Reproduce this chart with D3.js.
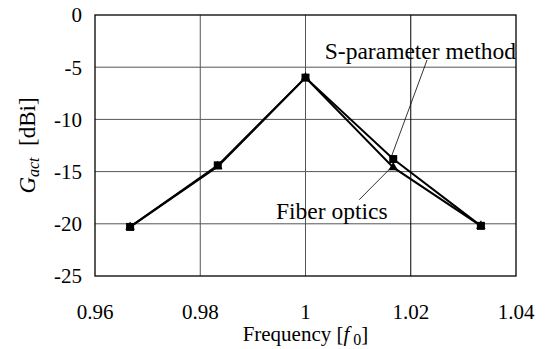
<!DOCTYPE html>
<html>
<head>
<meta charset="utf-8">
<script src="https://cdn.jsdelivr.net/npm/d3@7"></script>
<style>
  body { margin: 0; background: #fff; }
</style>
</head>
<body>
<div id="chart"></div>
<script>
const freqs = [0.96667, 0.98333, 1.0, 1.01667, 1.03333];
const sParam = [-20.3, -14.4, -6.0, -13.8, -20.2];
const fiber = [-20.3, -14.5, -6.0, -14.6, -20.2];
const xTicks = [0.96, 0.98, 1, 1.02, 1.04];
const yTicks = [0, -5, -10, -15, -20, -25];

const margin = { top: 15, right: 29, bottom: 73, left: 95 };
const width = 545 - margin.left - margin.right;
const height = 349 - margin.top - margin.bottom;

const serif = "'Liberation Serif', 'Times New Roman', serif";

const svg = d3.select("#chart").append("svg")
    .attr("width", 545)
    .attr("height", 349)
    .attr("font-family", serif);

const g = svg.append("g")
    .attr("transform", `translate(${margin.left},${margin.top})`);

const x = d3.scaleLinear().domain([0.96, 1.04]).range([0, width]);
const y = d3.scaleLinear().domain([-25, 0]).range([height, 0]);

// grid
g.selectAll(".hgrid")
    .data(yTicks.slice(1, -1))
    .enter().append("line")
    .attr("x1", 0).attr("x2", width)
    .attr("y1", d => y(d)).attr("y2", d => y(d))
    .attr("stroke", "#555").attr("stroke-width", 1);

g.selectAll(".vgrid")
    .data(xTicks.slice(1, -1))
    .enter().append("line")
    .attr("x1", d => x(d)).attr("x2", d => x(d))
    .attr("y1", 0).attr("y2", height)
    .attr("stroke", d => d === 1.02 ? "#000" : "#555")
    .attr("stroke-width", 1);

g.append("rect")
    .attr("width", width).attr("height", height)
    .attr("fill", "none").attr("stroke", "#000").attr("stroke-width", 1.3);

// tick labels
g.selectAll(".ylab")
    .data(yTicks)
    .enter().append("text")
    .attr("x", -13)
    .attr("y", d => y(d))
    .attr("dy", "0.35em")
    .attr("text-anchor", "end")
    .attr("font-size", 21)
    .text(d => d);

g.selectAll(".xlab")
    .data(xTicks)
    .enter().append("text")
    .attr("x", d => x(d))
    .attr("y", height + 43)
    .attr("text-anchor", "middle")
    .attr("font-size", 21)
    .text(d => d);

// axis titles
const xt = svg.append("text")
    .attr("x", margin.left + x(1))
    .attr("y", 341)
    .attr("text-anchor", "middle")
    .attr("font-size", 21);
xt.append("tspan").text("Frequency [");
xt.append("tspan").attr("font-style", "italic").text("f");
xt.append("tspan").attr("font-size", 16).attr("dy", 4).text(" 0");
xt.append("tspan").attr("dy", -4).text("]");

const yt = svg.append("text")
    .attr("transform", `translate(35,${margin.top + y(-12.5)}) rotate(-90)`)
    .attr("text-anchor", "middle")
    .attr("font-size", 23);
yt.append("tspan").attr("font-style", "italic").text("G");
yt.append("tspan").attr("font-style", "italic").attr("font-size", 16).attr("dy", 4).text("act");
yt.append("tspan").attr("dy", -4).text("\u00a0\u00a0[dBi]");

// series
const line = d3.line().x(d => x(d[0])).y(d => y(d[1]));
const sData = freqs.map((f, i) => [f, sParam[i]]);
const fData = freqs.map((f, i) => [f, fiber[i]]);

g.append("path").datum(fData).attr("d", line)
    .attr("fill", "none").attr("stroke", "#000").attr("stroke-width", 2);
g.append("path").datum(sData).attr("d", line)
    .attr("fill", "none").attr("stroke", "#000").attr("stroke-width", 2);

g.selectAll(".tri")
    .data(fData)
    .enter().append("path")
    .attr("transform", d => `translate(${x(d[0])},${y(d[1])})`)
    .attr("d", d3.symbol().type(d3.symbolTriangle).size(40))
    .attr("fill", "#000");

g.selectAll(".sq")
    .data(sData)
    .enter().append("rect")
    .attr("x", d => x(d[0]) - 4)
    .attr("y", d => y(d[1]) - 4)
    .attr("width", 8).attr("height", 8)
    .attr("fill", "#000");

// annotations
g.append("line")
    .attr("x1", x(1.0231)).attr("y1", y(-4.3))
    .attr("x2", x(1.0163)).attr("y2", y(-13.6))
    .attr("stroke", "#000").attr("stroke-width", 0.8);
g.append("text")
    .attr("x", width)
    .attr("y", y(-4.2))
    .attr("text-anchor", "end")
    .attr("font-size", 23.5)
    .text("S-parameter method");

g.append("line")
    .attr("x1", x(1.0102)).attr("y1", y(-17.7))
    .attr("x2", x(1.0163)).attr("y2", y(-14.6))
    .attr("stroke", "#000").attr("stroke-width", 0.8);
g.append("text")
    .attr("x", x(0.9944))
    .attr("y", y(-19.5))
    .attr("text-anchor", "start")
    .attr("font-size", 23.5)
    .text("Fiber optics");
</script>
</body>
</html>
